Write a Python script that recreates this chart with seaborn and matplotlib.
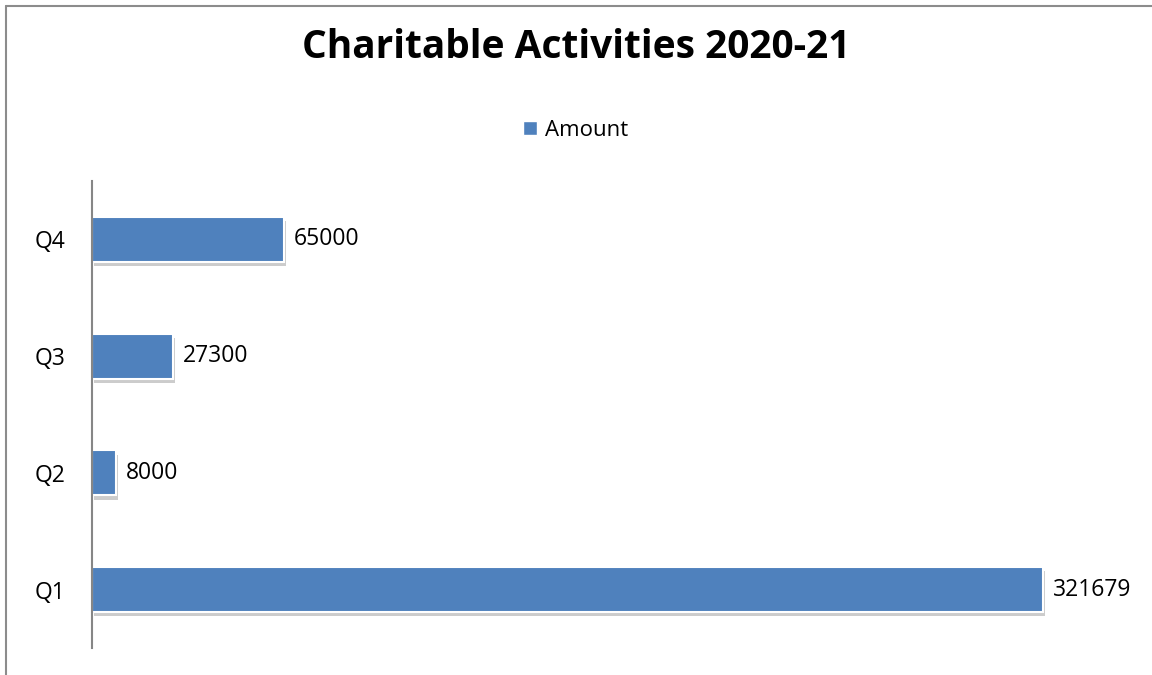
import pandas as pd
import seaborn as sns
import matplotlib.pyplot as plt
import matplotlib.patheffects as pe
from matplotlib.lines import Line2D
from matplotlib.patches import Patch

quarters = ['Q4', 'Q3', 'Q2', 'Q1']
amounts = [65000, 27300, 8000, 321679]
series_name = 'Amount'
title = 'Charitable Activities 2020-21'

df = pd.DataFrame({'Quarter': quarters, series_name: amounts})

sns.set_style('white')
plt.rcParams['font.family'] = ['Open Sans', 'DejaVu Sans']
plt.rcParams['text.color'] = 'black'

fig = plt.figure(figsize=(11.52, 6.75), dpi=100)
ax = fig.add_axes([92 / 1152, 1 - 648 / 675, (1127 - 92) / 1152, (648 - 181) / 675])

bar_color = '#4F81BD'
sns.barplot(data=df, x=series_name, y='Quarter', order=quarters, color=bar_color,
            saturation=1, width=0.385, edgecolor='white', linewidth=1.5, ax=ax)

for patch in ax.patches:
    patch.set_path_effects([pe.SimplePatchShadow(offset=(1.5, -3), shadow_rgbFace='#aaaaaa', alpha=0.6),
                            pe.Normal()])

for i, v in enumerate(amounts):
    ax.text(v + 3300, i, str(v), va='center', ha='left', fontsize=16.5, color='black')

ax.set_xlim(0, 350000)
ax.set_ylim(3.5, -0.5)
ax.set_xlabel('')
ax.set_ylabel('')
ax.set_xticks([])
ax.tick_params(axis='y', length=0, pad=19, labelsize=16.5, labelcolor='black')
for s in ['top', 'right', 'bottom']:
    ax.spines[s].set_visible(False)
ax.spines['left'].set_color('#868686')
ax.spines['left'].set_linewidth(1.5)

fig.text(0.5, 1 - 48 / 675, title, ha='center', va='center', fontsize=28, fontweight='bold',
         color='black')
fig.legend(handles=[Patch(facecolor=bar_color, label=series_name)], loc='center',
           bbox_to_anchor=(0.5, 1 - 130 / 675), frameon=False, fontsize=16,
           handlelength=0.6, handleheight=0.6, handletextpad=0.4, labelcolor='black')

# chart border (left and top edges visible)
fig.add_artist(Line2D([6 / 1152, 6 / 1152], [0, 1 - 6 / 675], transform=fig.transFigure,
                      color='#8c8c8c', linewidth=1.5))
fig.add_artist(Line2D([6 / 1152, 1], [1 - 6 / 675, 1 - 6 / 675], transform=fig.transFigure,
                      color='#8c8c8c', linewidth=1.5))

fig.savefig('out.png', dpi=100)
